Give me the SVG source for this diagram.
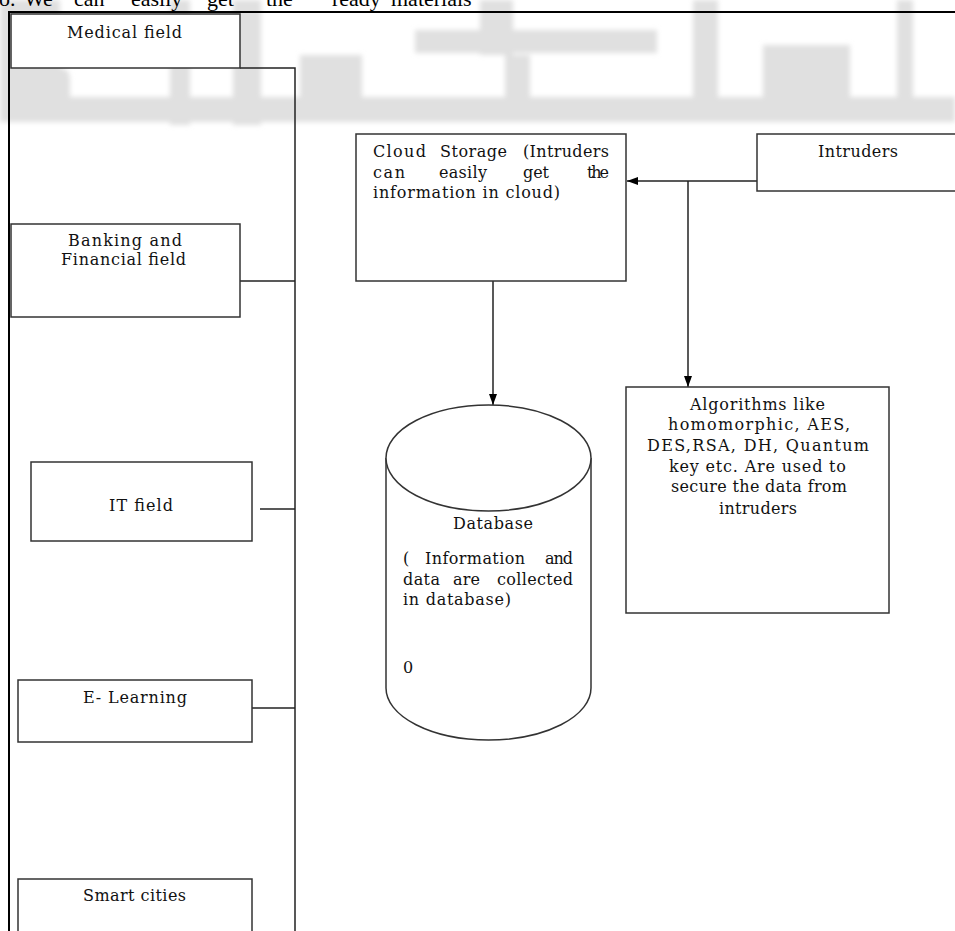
<svg xmlns="http://www.w3.org/2000/svg" width="955" height="931" viewBox="0 0 955 931">
<style>
.t{font-family:"DejaVu Serif","Liberation Serif",serif;font-size:16px;fill:#111}
.top{font-family:"Liberation Serif",serif;font-size:22px;fill:#000}
.box{fill:#fff;stroke:#333;stroke-width:1.5}
.ln{fill:none;stroke:#222;stroke-width:1.5}
.frame{fill:none;stroke:#000;stroke-width:2}
</style>
<defs>
<marker id="arr" markerUnits="userSpaceOnUse" markerWidth="12" markerHeight="9" refX="11" refY="4" orient="auto">
<path d="M0,0 L11,4 L0,8 Z" fill="#000"/>
</marker>
<filter id="blur" x="-10%" y="-10%" width="120%" height="120%"><feGaussianBlur stdDeviation="2.5"/></filter>
</defs>
<rect width="955" height="931" fill="#fff"/>
<g id="watermark" fill="#e0e0e0" filter="url(#blur)">
<path d="M0,0 H60 V68 H60 Q70,68 70,80 V100 H0 Z"/>
<rect x="170" y="0" width="20" height="125"/>
<rect x="233" y="0" width="28" height="125"/>
<rect x="300" y="55" width="62" height="45"/>
<rect x="415" y="30" width="242" height="23"/>
<rect x="505" y="55" width="25" height="45"/>
<rect x="480" y="0" width="33" height="55"/>
<rect x="693" y="0" width="25" height="100"/>
<rect x="763" y="45" width="87" height="55"/>
<rect x="897" y="0" width="16" height="100"/>
<rect x="0" y="97" width="955" height="25"/>
</g>
<text class="top" y="6"><tspan x="-1">o.</tspan><tspan x="24">We</tspan><tspan x="74">can</tspan><tspan x="131">easily</tspan><tspan x="207">get</tspan><tspan x="266">the</tspan><tspan x="332">ready</tspan><tspan x="391">materials</tspan></text>
<path class="frame" d="M9,931 V12 H955"/>
<g id="connectors">
<path class="ln" d="M240,68 H295 V931"/>
<path class="ln" d="M240,281 H295"/>
<path class="ln" d="M260,509 H295"/>
<path class="ln" d="M252,708 H295"/>
<path class="ln" d="M757,181 H627" marker-end="url(#arr)"/>
<path class="ln" d="M688,181 V387" marker-end="url(#arr)"/>
<path class="ln" d="M493,281 V405" marker-end="url(#arr)"/>
</g>
<g id="medical">
<rect class="box" x="11" y="14" width="229" height="54"/>
<text class="t" x="67" y="38" textLength="115" lengthAdjust="spacing">Medical field</text>
</g>
<g id="banking">
<rect class="box" x="11" y="224" width="229" height="93"/>
<text class="t" x="68" y="246" textLength="114" lengthAdjust="spacing">Banking and</text>
<text class="t" x="61" y="265" textLength="125" lengthAdjust="spacing">Financial field</text>
</g>
<g id="it">
<rect class="box" x="31" y="462" width="221" height="79"/>
<text class="t" x="109" y="511" textLength="64" lengthAdjust="spacing">IT field</text>
</g>
<g id="elearning">
<rect class="box" x="18" y="680" width="234" height="62"/>
<text class="t" x="83" y="703" textLength="104" lengthAdjust="spacing">E- Learning</text>
</g>
<g id="smart">
<rect class="box" x="18" y="879" width="234" height="60"/>
<text class="t" x="83" y="901" textLength="103" lengthAdjust="spacing">Smart cities</text>
</g>
<g id="cloud">
<rect class="box" x="356" y="134" width="270" height="147"/>
<text class="t" y="157"><tspan x="373" textLength="53" lengthAdjust="spacing">Cloud</tspan><tspan x="440" textLength="67" lengthAdjust="spacing">Storage</tspan><tspan x="523" textLength="86" lengthAdjust="spacing">(Intruders</tspan></text>
<text class="t" y="178"><tspan x="373" textLength="32" lengthAdjust="spacing">can</tspan><tspan x="439" textLength="48" lengthAdjust="spacing">easily</tspan><tspan x="523" textLength="26" lengthAdjust="spacing">get</tspan><tspan x="587" textLength="22" lengthAdjust="spacing">the</tspan></text>
<text class="t" x="373" y="198" textLength="187" lengthAdjust="spacing">information in cloud)</text>
</g>
<g id="intruders">
<rect class="box" x="757" y="134" width="205" height="57"/>
<text class="t" x="818" y="157" textLength="80" lengthAdjust="spacing">Intruders</text>
</g>
<g id="algorithms">
<rect class="box" x="626" y="387" width="263" height="226"/>
<text class="t" x="690" y="410" textLength="135" lengthAdjust="spacing">Algorithms like</text>
<text class="t" x="668" y="430" textLength="182" lengthAdjust="spacing">homomorphic,  AES,</text>
<text class="t" x="647" y="451" textLength="222" lengthAdjust="spacing">DES,RSA,  DH, Quantum</text>
<text class="t" x="669" y="472" textLength="177" lengthAdjust="spacing">key etc. Are used to</text>
<text class="t" x="671" y="492" textLength="176" lengthAdjust="spacing">secure the data from</text>
<text class="t" x="719" y="514" textLength="78" lengthAdjust="spacing">intruders</text>
</g>
<g id="database">
<path class="box" d="M386,458 V688 A102.5,52 0 0 0 591,688 V458"/>
<ellipse class="box" cx="488.5" cy="458" rx="102.5" ry="53"/>
<text class="t" x="453" y="529" textLength="80" lengthAdjust="spacing">Database</text>
<text class="t" y="564"><tspan x="403">(</tspan><tspan x="425" textLength="100" lengthAdjust="spacing">Information</tspan><tspan x="545" textLength="28" lengthAdjust="spacing">and</tspan></text>
<text class="t" y="585"><tspan x="403" textLength="37" lengthAdjust="spacing">data</tspan><tspan x="453" textLength="27" lengthAdjust="spacing">are</tspan><tspan x="497" textLength="76" lengthAdjust="spacing">collected</tspan></text>
<text class="t" x="403" y="605" textLength="108" lengthAdjust="spacing">in database)</text>
<text class="t" x="403" y="673">0</text>
</g>
</svg>
